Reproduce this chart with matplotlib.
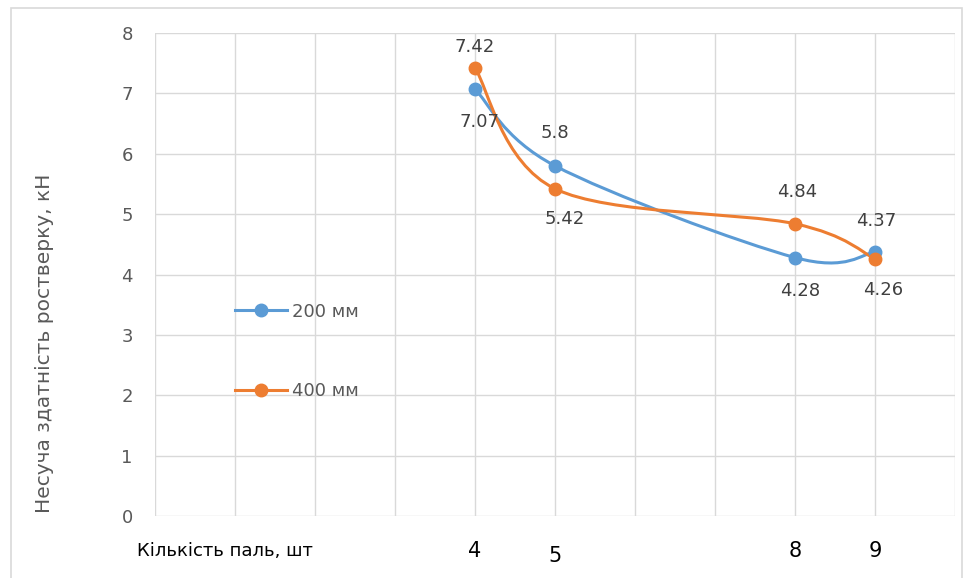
import numpy as np
import matplotlib
matplotlib.use("Agg")
import matplotlib.pyplot as plt
from matplotlib.path import Path
from matplotlib.patches import PathPatch, Rectangle
from matplotlib.lines import Line2D

# Кількість паль та несуча здатність для двох довжин
piles = [4, 5, 8, 9]
cap_200 = [7.07, 5.8, 4.28, 4.37]
cap_400 = [7.42, 5.42, 4.84, 4.26]
series_names = ["200 мм", "400 мм"]
x_axis_text = "Кількість паль, шт"
y_axis_text = "Несуча здатність ростверку, кН"

BLUE = "#5B9BD5"
ORANGE = "#ED7D31"
GRID = "#D9D9D9"
TEXT = "#595959"
LABEL = "#404040"


def smooth_path(xs, ys):
    """Згладжена лінія кубічними кривими Безьє (як у Excel)."""
    pts = np.column_stack([xs, ys]).astype(float)
    n = len(pts)
    verts = [pts[0]]
    codes = [Path.MOVETO]
    for i in range(n - 1):
        p_prev = pts[i - 1] if i > 0 else pts[i]
        p_next = pts[i + 2] if i + 2 < n else pts[i + 1]
        c1 = pts[i] + (pts[i + 1] - p_prev) / 6
        c2 = pts[i + 1] - (p_next - pts[i]) / 6
        verts += [c1, c2, pts[i + 1]]
        codes += [Path.CURVE4] * 3
    return Path(verts, codes)


fig = plt.figure(figsize=(9.63, 5.78), dpi=100)
ax = fig.add_axes([155 / 963, 62 / 578, 800 / 963, 483 / 578])

# рамка навколо діаграми
fig.patches.append(Rectangle((11 / 963, -0.01), 951 / 963, 1 - 8 / 578 + 0.01,
                             transform=fig.transFigure, fill=False,
                             edgecolor=GRID, linewidth=1.2))

for ys, color in [(cap_200, BLUE), (cap_400, ORANGE)]:
    ax.add_patch(PathPatch(smooth_path(piles, ys), facecolor="none",
                           edgecolor=color, linewidth=2.2, capstyle="round",
                           zorder=3))
    ax.plot(piles, ys, "o", color=color, markersize=9, zorder=4)

# підписи значень (зміщення в пікселях)
offsets_200 = [(4, -33), (0, 33), (5, -33), (1, 31)]
offsets_400 = [(0, 21), (10, -30), (2, 32), (8, -31)]
for ys, offs in [(cap_200, offsets_200), (cap_400, offsets_400)]:
    for x, y, (dx, dy) in zip(piles, ys, offs):
        ax.annotate(f"{y:g}", (x, y), xytext=(dx, dy),
                    textcoords="offset pixels", ha="center", va="center",
                    fontsize=13, color=LABEL, zorder=5)

ax.set_xlim(0, 10)
ax.set_ylim(0, 8)
ax.set_xticks(np.arange(0, 11))
ax.set_yticks(np.arange(0, 9))
ax.set_xticklabels([])
ax.grid(True, color=GRID, linewidth=1.0)
ax.set_axisbelow(True)
for s in ax.spines.values():
    s.set_visible(False)
ax.tick_params(axis="both", length=0)
ax.tick_params(axis="y", labelsize=13, labelcolor=TEXT, pad=16)

fig.text(45 / 963, 1 - 343 / 578, y_axis_text, rotation=90, ha="center",
         va="center", fontsize=14.5, color=TEXT)

# підписи осі X окремими текстовими полями
fig.text(137 / 963, 1 - 551 / 578, x_axis_text, ha="left", va="center",
         fontsize=13, color="black")
x_label_y = [551, 556, 551, 551]
for x, yp in zip(piles, x_label_y):
    xf = ax.transData.transform((x, 0))[0] / fig.bbox.width
    fig.text(xf, 1 - yp / 578, str(x), ha="center", va="center",
             fontsize=15, color="black")

handles = [Line2D([], [], color=c, linewidth=2.2, marker="o", markersize=9)
           for c in (BLUE, ORANGE)]
fig.legend(handles, series_names, loc="center left",
           bbox_to_anchor=(235 / 963, 1 - 351.5 / 578), frameon=False,
           fontsize=13, labelcolor=TEXT, handlelength=2.9, handletextpad=0.25,
           labelspacing=3.4, borderpad=0, borderaxespad=0)

fig.savefig("out.png", dpi=100)
